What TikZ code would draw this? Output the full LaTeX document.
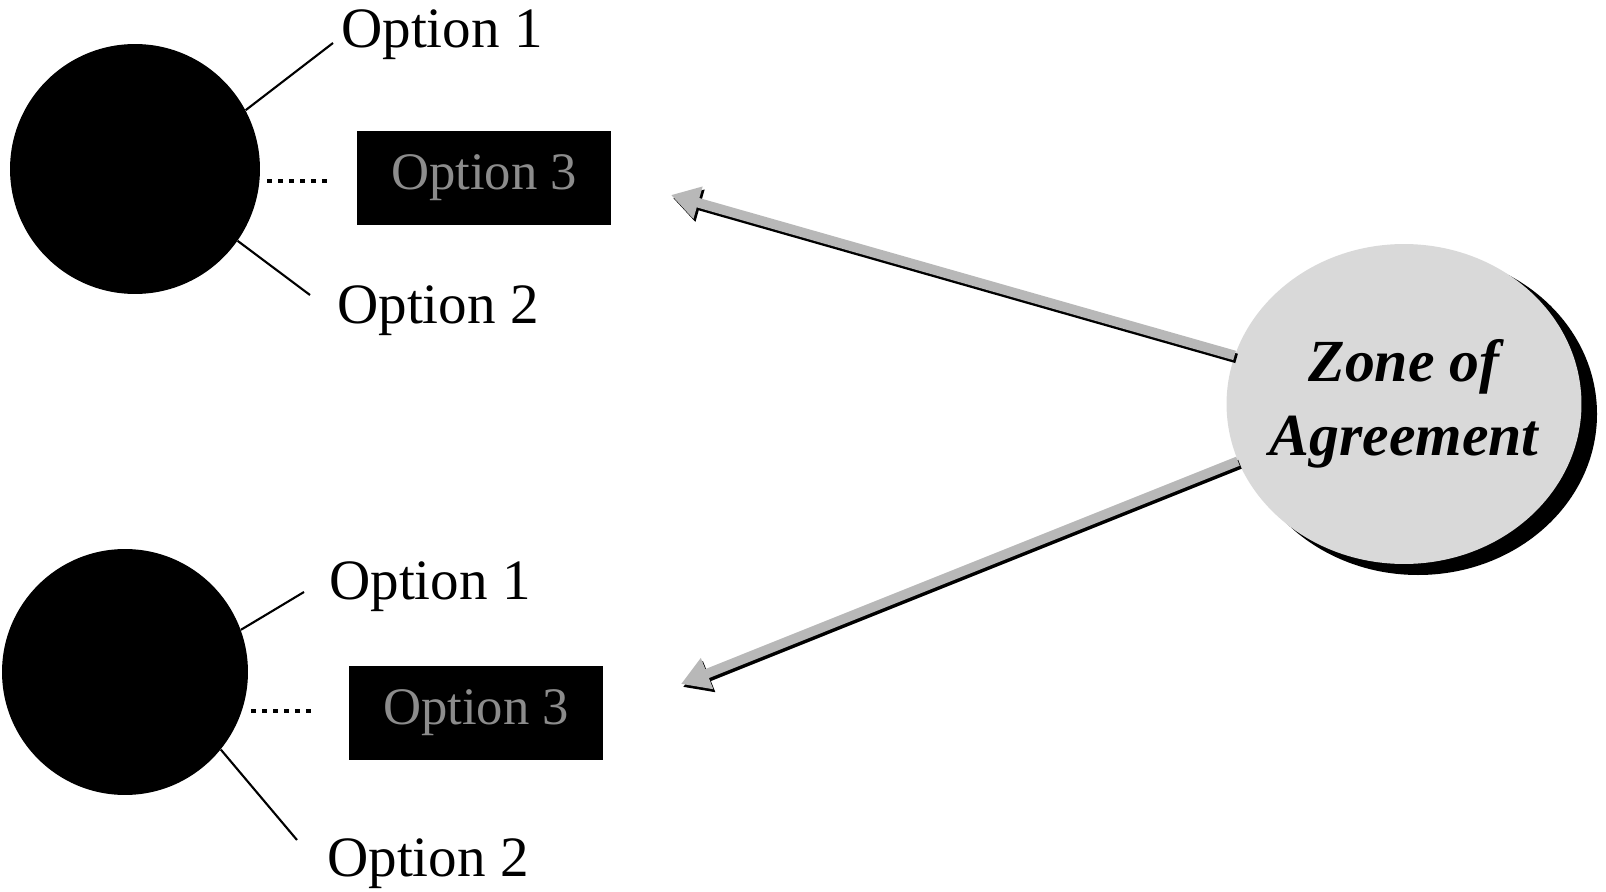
\documentclass[tikz,border=0pt]{standalone}
\usepackage{fontspec}
\setmainfont{Liberation Serif}
\usetikzlibrary{arrows.meta, positioning, calc, shapes.geometric}

\tikzset{
  party/.style={circle, fill=black, inner sep=0pt},
  optbox/.style={rectangle, fill=black, text=black!45, minimum width=5.08cm, minimum height=1.9cm, font=\fontsize{30}{34}\selectfont},
  optlabel/.style={font=\fontsize{32.5}{38}\selectfont},
  optlink/.style={line width=1.2pt},
  dotlink/.style={line width=2.8pt, dash pattern=on 2.8pt off 3.4pt},
  bigarrow/.style={line width=5.5pt, draw=black!28, -{Triangle[length=16pt, width=18pt, fill=black!28]}},
  arrowshadow/.style={line width=5.5pt, draw=black, -{Triangle[length=16pt, width=18pt]}}
}

\begin{document}
\begin{tikzpicture}[x=0.02cm, y=-0.02cm]
  \useasboundingbox (0,0) rectangle (1606,892);

  % first party
  \node[party, minimum size=5cm] (partyA) at (135,169) {};
  \node[optbox] (optA3) at (484,178) {Option 3};
  \node[optlabel] (optA1) at (442,35) {Option 1};
  \node[optlabel] (optA2) at (438,311) {Option 2};
  \coordinate (a1end) at (333,43);
  \coordinate (a2end) at (310,295);
  \draw[optlink] (partyA.28) -- (a1end);
  \draw[optlink] (partyA.-35) -- (a2end);
  \draw[dotlink] ($(partyA.east)+(7,12)$) -- ++(65,0);

  % second party
  \node[party, minimum size=4.92cm] (partyB) at (125,672) {};
  \node[optbox] (optB3) at (476,713) {Option 3};
  \node[optlabel] (optB1) at (430,587) {Option 1};
  \node[optlabel] (optB2) at (428,864) {Option 2};
  \coordinate (b1end) at (304,592);
  \coordinate (b2end) at (297,840);
  \draw[optlink] (partyB.20) -- (b1end);
  \draw[optlink] (partyB.-39) -- (b2end);
  \draw[dotlink] ($(partyB.east)+(3,39)$) -- ++(64,0);

  % zone of agreement with shadow
  \fill[black] (1418,414) ellipse (179 and 161);
  \node[ellipse, fill=black!15, minimum width=7.1cm, minimum height=6.4cm, inner sep=0pt] (zone) at (1404,404) {};
  \node[align=center, font=\fontsize{34}{42}\selectfont\bfseries\itshape] (zonetext) at (zone) {Zone of\\Agreement};

  % arrows to the parties
  \coordinate (tipA) at (671,195);
  \coordinate (tipB) at (681,684);
  \draw[arrowshadow] ([shift={(2,3)}]zone.164) -- ([shift={(2,3)}]tipA);
  \draw[bigarrow] (zone.164) -- (tipA);
  \draw[arrowshadow] ([shift={(2,3)}]zone.199) -- ([shift={(2,3)}]tipB);
  \draw[bigarrow] (zone.199) -- (tipB);
\end{tikzpicture}
\end{document}
